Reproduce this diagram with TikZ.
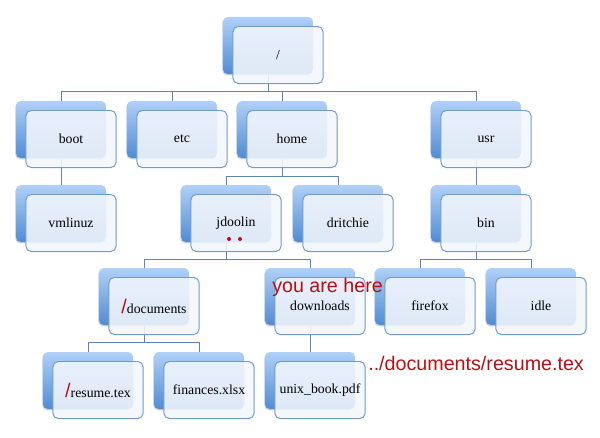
\documentclass[tikz,border=0pt]{standalone}
\usepackage{fontspec}
\setmainfont{Liberation Serif}
\newfontfamily\redsans{Liberation Sans}
\usepackage{tikz}
\usetikzlibrary{shadows,backgrounds,calc,positioning}
\definecolor{herered}{RGB}{185,15,20}
\definecolor{boxtop}{RGB}{176,208,248}
\definecolor{boxbot}{RGB}{80,140,212}
\definecolor{boxline}{RGB}{112,156,204}
\definecolor{boxfill}{RGB}{242,246,252}
\definecolor{linkcol}{RGB}{92,132,180}
\newcommand{\redslash}{\textcolor{herered}{\redsans\fontsize{14}{14}\selectfont /}}

\begin{document}
\begin{tikzpicture}[x=0.025cm,y=-0.025cm,
    back/.style={rectangle,rounded corners=1.2mm,minimum width=2.25cm,
      minimum height=1.425cm,top color=boxtop,bottom color=boxbot,
      general shadow={fill=black!18,shadow xshift=-0.5pt,shadow yshift=-0.9pt}},
    front/.style={rectangle,rounded corners=1.3mm,minimum width=2.25cm,
      minimum height=1.425cm,draw=boxline,line width=0.7pt,fill=boxfill,
      fill opacity=0.88,text opacity=1,font=\fontsize{9.8}{11}\selectfont},
    link/.style={draw=linkcol,line width=0.7pt},
    note/.style={text=herered,inner sep=0,anchor=west,
      font=\redsans\fontsize{14}{16}\selectfont}]
  \useasboundingbox (0,0) rectangle (600,437);
  % back boxes
  \node[back] (root) at (268,45.5) {};
  \node[back] (boot) at (61,129.5) {};
  \node[back] (etc) at (172,129.5) {};
  \node[back] (home) at (282,129.5) {};
  \node[back] (usr) at (476,129.5) {};
  \node[back] (vmlinuz) at (61,213.5) {};
  \node[back] (jdoolin) at (226,213.5) {};
  \node[back] (dritchie) at (338,213.5) {};
  \node[back] (bin) at (476,213.5) {};
  \node[back] (documents) at (144,296.5) {};
  \node[back] (downloads) at (310,296.5) {};
  \node[back] (firefox) at (420,296.5) {};
  \node[back] (idle) at (531,296.5) {};
  \node[back] (resume) at (88,380.5) {};
  \node[back] (finances) at (199,380.5) {};
  \node[back] (unixbook) at (310,380.5) {};
  % front boxes
  \node[front] (rootf) at ([shift={(10,9.5)}]root) {/};
  \node[front] (bootf) at ([shift={(10,9.5)}]boot) {boot};
  \node[front] (etcf) at ([shift={(10,9.5)}]etc) {etc};
  \node[front] (homef) at ([shift={(10,9.5)}]home) {home};
  \node[front] (usrf) at ([shift={(10,9.5)}]usr) {usr};
  \node[front] (vmlinuzf) at ([shift={(10,9.5)}]vmlinuz) {vmlinuz};
  \node[front] (jdoolinf) at ([shift={(10,9.5)}]jdoolin) {jdoolin};
  \node[front] (dritchief) at ([shift={(10,9.5)}]dritchie) {dritchie};
  \node[front] (binf) at ([shift={(10,9.5)}]bin) {bin};
  \node[front] (documentsf) at ([shift={(10,9.5)}]documents) {\redslash documents};
  \node[front] (downloadsf) at ([shift={(10,9.5)}]downloads) {downloads};
  \node[front] (firefoxf) at ([shift={(10,9.5)}]firefox) {firefox};
  \node[front] (idlef) at ([shift={(10,9.5)}]idle) {idle};
  \node[front] (resumef) at ([shift={(10,9.5)}]resume) {\redslash resume.tex};
  \node[front] (financesf) at ([shift={(10,9.5)}]finances) {finances.xlsx};
  \node[front] (unixbookf) at ([shift={(10,9.5)}]unixbook) {unix\_book.pdf};
  % marks and notes
  \node[circle,fill=herered,inner sep=0,minimum size=0.1cm] (dotl) at (229,239) {};
  \node[circle,fill=herered,inner sep=0,minimum size=0.1cm] (dotr) at (240,239) {};
  \node[note] (here) at (272,287) {you are here};
  \node[note] (relpath) at (368,363) {../documents/resume.tex};
  % connectors
  \begin{scope}[on background layer]
    \draw[link] (root.south) |- ($(boot.north)+(0,-9)$) -- (boot.north);
    \draw[link] (root.south) |- ($(etc.north)+(0,-9)$) -- (etc.north);
    \draw[link] (root.south) |- ($(home.north)+(0,-9)$) -- (home.north);
    \draw[link] (root.south) |- ($(usr.north)+(0,-9)$) -- (usr.north);
    \draw[link] (boot.south) -- (vmlinuz.north);
    \draw[link] (home.south) |- ($(jdoolin.north)+(0,-8)$) -- (jdoolin.north);
    \draw[link] (home.south) |- ($(dritchie.north)+(0,-8)$) -- (dritchie.north);
    \draw[link] (usr.south) -- (bin.north);
    \draw[link] (jdoolin.south) |- ($(documents.north)+(0,-8)$) -- (documents.north);
    \draw[link] (jdoolin.south) |- ($(downloads.north)+(0,-8)$) -- (downloads.north);
    \draw[link] (bin.south) |- ($(firefox.north)+(0,-8)$) -- (firefox.north);
    \draw[link] (bin.south) |- ($(idle.north)+(0,-8)$) -- (idle.north);
    \draw[link] (documents.south) |- ($(resume.north)+(0,-9)$) -- (resume.north);
    \draw[link] (documents.south) |- ($(finances.north)+(0,-9)$) -- (finances.north);
    \draw[link] (downloads.south) -- (unixbook.north);
  \end{scope}
\end{tikzpicture}
\end{document}
